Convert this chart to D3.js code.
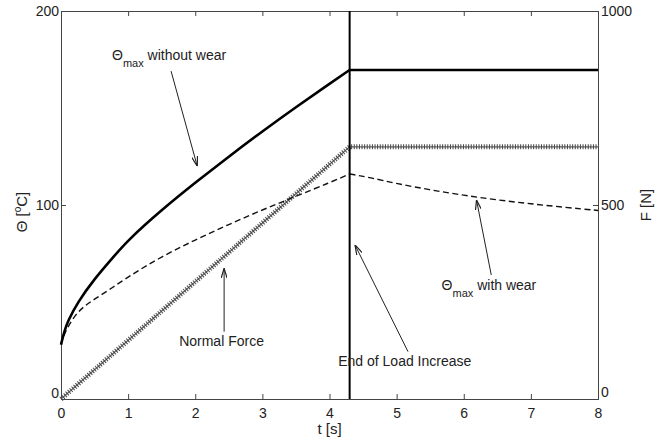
<!DOCTYPE html>
<html>
<head>
<meta charset="utf-8">
<script src="https://cdn.jsdelivr.net/npm/d3@7"></script>
<style>
  body { margin: 0; background: #fff; }
  svg { font-family: "Liberation Sans", Arial, sans-serif; }
</style>
</head>
<body>
<svg id="chart" width="668" height="441"></svg>
<script>
// Θmax without wear (solid)
const tNoWear = [0, 0.05, 0.1, 0.25, 0.5, 0.75, 1.0, 1.5, 2.0, 2.5, 3.0, 3.5, 4.0, 4.3, 8];
const thetaNoWear = [28, 35, 40, 50, 62, 72, 82, 97.5, 111.5, 125, 138, 150.5, 162.5, 169.6, 169.6];

// Θmax with wear (dashed)
const tWear = [0, 0.05, 0.2, 0.35, 0.5, 0.75, 1.0, 1.5, 2.0, 2.5, 3.0, 3.5, 4.0, 4.3, 4.6, 5.0, 5.5, 6.0, 6.5, 7.0, 7.5, 8.0];
const thetaWear = [28, 34, 43, 48, 51.5, 57, 63, 73.5, 82, 90, 97.5, 104.5, 111.5, 116, 114.2, 111, 107.8, 105, 102.6, 100.6, 98.8, 97.2];

// Normal force (right axis)
const tForce = [0, 4.3, 8];
const force = [0, 650, 650];

const tEndLoad = 4.3;

const xTicks = [0, 1, 2, 3, 4, 5, 6, 7, 8];
const yLeftTicks = [0, 100, 200];
const yRightTicks = [0, 500, 1000];

const svg = d3.select("#chart");
const margin = { top: 11, right: 70, bottom: 42, left: 61 };
const width = +svg.attr("width") - margin.left - margin.right;
const height = +svg.attr("height") - margin.top - margin.bottom;

const x = d3.scaleLinear().domain([0, 8]).range([0, width]);
const y = d3.scaleLinear().domain([0, 200]).range([height, 0]);
const yR = d3.scaleLinear().domain([0, 1000]).range([height, 0]);

const g = svg.append("g").attr("transform", `translate(${margin.left},${margin.top})`);

// arrow marker
svg.append("defs").append("marker")
    .attr("id", "arrow")
    .attr("viewBox", "0 0 10 6")
    .attr("refX", 10).attr("refY", 3)
    .attr("markerWidth", 10).attr("markerHeight", 6)
    .attr("markerUnits", "userSpaceOnUse")
    .attr("orient", "auto")
    .append("path")
    .attr("d", "M0,0 L10,3 L0,6")
    .attr("fill", "none")
    .attr("stroke", "#222")
    .attr("stroke-width", 1.2);

const axisColor = "#444";

// axes with inward ticks
const xBottom = g.append("g").attr("transform", `translate(0,${height})`)
    .call(d3.axisBottom(x).tickValues(xTicks).tickSize(-5).tickPadding(9).tickFormat(d3.format("d")));
const xTop = g.append("g")
    .call(d3.axisTop(x).tickValues(xTicks).tickSize(-5).tickFormat(""));
const yLeft = g.append("g")
    .call(d3.axisLeft(y).tickValues(yLeftTicks).tickSize(-5).tickPadding(2).tickFormat(d3.format("d")));
const yRight = g.append("g").attr("transform", `translate(${width},0)`)
    .call(d3.axisRight(yR).tickValues(yRightTicks).tickSize(-5).tickPadding(3).tickFormat(d3.format("d")));

[xBottom, xTop, yLeft, yRight].forEach(a => {
    a.selectAll("path, line").attr("stroke", axisColor).attr("stroke-width", 1);
    a.selectAll("text").attr("fill", "#222").style("font-size", "14px");
});
yLeft.selectAll(".tick").filter(d => d === 0).select("text").attr("dy", "-0.1em");
yRight.selectAll(".tick").filter(d => d === 0).select("text").attr("dy", "-0.2em");

// split each curve at the end of load increase
const rising = (ts, vs) => vs.map((v, i) => [ts[i], v]).filter(d => d[0] <= tEndLoad);
const after = (ts, vs) => vs.map((v, i) => [ts[i], v]).filter(d => d[0] >= tEndLoad);

const curveLine = d3.line().x(d => x(d[0])).y(d => y(d[1])).curve(d3.curveBasis);
const lineForce = d3.line().x((d, i) => x(tForce[i])).y(d => yR(d));

// normal force: hatched look
g.append("path").datum(force)
    .attr("d", lineForce).attr("fill", "none")
    .attr("stroke", "#666").attr("stroke-width", 1.2);
g.append("path").datum(force)
    .attr("d", lineForce).attr("fill", "none")
    .attr("stroke", "#444").attr("stroke-width", 5)
    .attr("stroke-dasharray", "1,1.6");

[rising(tWear, thetaWear), after(tWear, thetaWear)].forEach(seg => {
    g.append("path").datum(seg)
        .attr("d", curveLine).attr("fill", "none")
        .attr("stroke", "#111").attr("stroke-width", 1.4)
        .attr("stroke-dasharray", "6,3.5");
});

[rising(tNoWear, thetaNoWear), after(tNoWear, thetaNoWear)].forEach(seg => {
    g.append("path").datum(seg)
        .attr("d", curveLine).attr("fill", "none")
        .attr("stroke", "#000").attr("stroke-width", 2.6);
});

// end of load increase line
g.append("line")
    .attr("x1", x(tEndLoad)).attr("x2", x(tEndLoad))
    .attr("y1", 0).attr("y2", height)
    .attr("stroke", "#000").attr("stroke-width", 2);

// annotations (data coordinates)
const annotations = [
    { theta: true, label: " without wear", tx: 0.76, ty: 174.7, from: [1.64, 169], to: [2.03, 120] },
    { theta: false, label: "Normal Force", tx: 1.76, ty: 27.3, from: [2.43, 34.7], to: [2.43, 67.4] },
    { theta: false, label: "End of Load Increase", tx: 4.13, ty: 17, from: [5.17, 24.4], to: [4.38, 79.4] },
    { theta: true, label: " with wear", tx: 5.67, ty: 56.2, from: [6.41, 63.9], to: [6.19, 102.6] }
];

annotations.forEach(a => {
    g.append("line")
        .attr("x1", x(a.from[0])).attr("y1", y(a.from[1]))
        .attr("x2", x(a.to[0])).attr("y2", y(a.to[1]))
        .attr("stroke", "#222").attr("stroke-width", 1)
        .attr("marker-end", "url(#arrow)");
    const t = g.append("text")
        .attr("x", x(a.tx)).attr("y", y(a.ty))
        .attr("fill", "#222").style("font-size", "14px");
    if (a.theta) {
        t.append("tspan").text("Θ");
        t.append("tspan").attr("dy", 7).style("font-size", "11px").text("max");
        t.append("tspan").attr("dy", -7).text(a.label);
    } else {
        t.text(a.label);
    }
});

// axis titles
svg.append("text")
    .attr("x", margin.left + x(4)).attr("y", 434)
    .attr("text-anchor", "middle").attr("fill", "#222")
    .style("font-size", "15px").text("t [s]");

const yTitle = svg.append("text")
    .attr("transform", `translate(27,${margin.top + y(100) + 7}) rotate(-90)`)
    .attr("text-anchor", "middle").attr("fill", "#222")
    .style("font-size", "15px");
yTitle.append("tspan").text("Θ [");
yTitle.append("tspan").attr("dy", -6).style("font-size", "10px").text("o");
yTitle.append("tspan").attr("dy", 6).text("C]");

svg.append("text")
    .attr("transform", `translate(651,${margin.top + y(100)}) rotate(-90)`)
    .attr("text-anchor", "middle").attr("fill", "#222")
    .style("font-size", "15px").text("F [N]");
</script>
</body>
</html>
